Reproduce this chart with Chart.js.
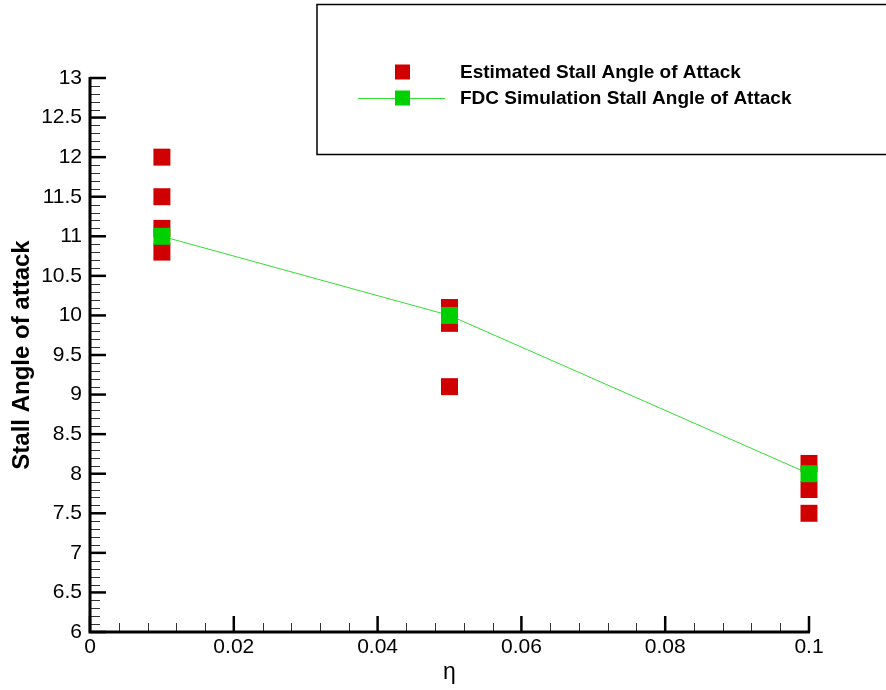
<!DOCTYPE html>
<html>
<head>
<meta charset="utf-8">
<script src="https://cdn.jsdelivr.net/npm/chart.js@4/dist/chart.umd.min.js"></script>
<style>
html,body{margin:0;padding:0;background:#fff;}
#wrap{width:886px;height:690px;position:relative;}
</style>
</head>
<body>
<div id="wrap"><canvas id="c" width="886" height="690"></canvas></div>
<script>
// ---- data ----
const estEta   = [0.01, 0.01, 0.01, 0.01, 0.05, 0.05, 0.05, 0.1, 0.1, 0.1];
const estAngle = [12, 11.5, 11.1, 10.8, 10.1, 9.9, 9.1, 8.13, 7.8, 7.5];
const fdcEta   = [0.01, 0.05, 0.1];
const fdcAngle = [11, 10, 8];
const xTicks = [0, 0.02, 0.04, 0.06, 0.08, 0.1];
const yTicks = [6, 6.5, 7, 7.5, 8, 8.5, 9, 9.5, 10, 10.5, 11, 11.5, 12, 12.5, 13];
const seriesLabels = ['Estimated Stall Angle of Attack', 'FDC Simulation Stall Angle of Attack'];
const xTitle = 'η';
const yTitle = 'Stall Angle of attack';

const FONT = "'Liberation Sans', Arial, Helvetica, sans-serif";
const RED = '#d00000';
const GREEN = '#00d000';
const LINEGREEN = '#33dd33';

const toPts = (xs, ys) => xs.map((x, i) => ({x: x, y: ys[i]}));

const axesPlugin = {
  id: 'axesTicks',
  afterDatasetsDraw(chart) {
    const ctx = chart.ctx;
    const xs = chart.scales.x, ys = chart.scales.y;
    const x0 = xs.getPixelForValue(xs.min), x1 = xs.getPixelForValue(xs.max);
    const y0 = ys.getPixelForValue(ys.min), y1 = ys.getPixelForValue(ys.max);
    ctx.save();
    ctx.lineWidth = 1;
    ctx.strokeStyle = '#333';
    for (let i = 0; i <= 25; i++) {
      if (i % 5 === 0) continue;
      const px = Math.round(xs.getPixelForValue(xs.min + i * (xs.max - xs.min) / 25)) + 0.5;
      ctx.beginPath(); ctx.moveTo(px, y0); ctx.lineTo(px, y0 - 9); ctx.stroke();
    }
    for (let i = 0; i <= 70; i++) {
      if (i % 5 === 0) continue;
      const py = Math.round(ys.getPixelForValue(ys.min + i * (ys.max - ys.min) / 70)) + 0.5;
      ctx.beginPath(); ctx.moveTo(x0, py); ctx.lineTo(x0 + 10, py); ctx.stroke();
    }
    ctx.strokeStyle = '#000';
    ctx.lineWidth = 2.5;
    xTicks.forEach(v => {
      const px = xs.getPixelForValue(v);
      ctx.beginPath(); ctx.moveTo(px, y0); ctx.lineTo(px, y0 - 16); ctx.stroke();
    });
    yTicks.forEach(v => {
      const py = ys.getPixelForValue(v);
      ctx.beginPath(); ctx.moveTo(x0, py); ctx.lineTo(x0 + 16, py); ctx.stroke();
    });
    ctx.lineWidth = 3;
    ctx.beginPath();
    ctx.moveTo(x0, y1 - 1); ctx.lineTo(x0, y0); ctx.lineTo(x1 + 1, y0);
    ctx.stroke();
    ctx.restore();
  }
};

const legendPlugin = {
  id: 'boxLegend',
  afterDraw(chart) {
    const ctx = chart.ctx;
    ctx.save();
    ctx.strokeStyle = '#000';
    ctx.lineWidth = 1.5;
    ctx.strokeRect(317, 4.5, 600, 150);
    const rows = [72, 98];
    chart.data.datasets.forEach((ds, i) => {
      const cy = rows[i];
      if (ds.showLine) {
        ctx.strokeStyle = ds.borderColor;
        ctx.lineWidth = 1;
        ctx.beginPath(); ctx.moveTo(358, cy + 0.5); ctx.lineTo(445, cy + 0.5); ctx.stroke();
      }
      ctx.fillStyle = ds.pointBackgroundColor;
      ctx.fillRect(395, cy - 7.5, 15, 15);
      ctx.fillStyle = '#000';
      ctx.font = 'bold 19px ' + FONT;
      ctx.textBaseline = 'middle';
      ctx.textAlign = 'left';
      ctx.fillText(ds.label, 460, cy + 1);
    });
    ctx.restore();
  }
};

new Chart(document.getElementById('c'), {
  type: 'scatter',
  data: {
    datasets: [
      {
        label: seriesLabels[0],
        data: toPts(estEta, estAngle),
        showLine: false,
        clip: false,
        pointStyle: 'rect',
        pointRadius: 12,
        pointHoverRadius: 12,
        pointBorderWidth: 0,
        pointBackgroundColor: RED,
        backgroundColor: RED,
        borderColor: RED,
        order: 2
      },
      {
        label: seriesLabels[1],
        data: toPts(fdcEta, fdcAngle),
        showLine: true,
        clip: false,
        borderColor: LINEGREEN,
        borderWidth: 1,
        pointStyle: 'rect',
        pointRadius: 12,
        pointHoverRadius: 12,
        pointBorderWidth: 0,
        pointBackgroundColor: GREEN,
        backgroundColor: GREEN,
        order: 1
      }
    ]
  },
  options: {
    responsive: false,
    animation: false,
    events: [],
    layout: {padding: {top: 78, right: 77, left: 0, bottom: 0}},
    plugins: {legend: {display: false}, tooltip: {enabled: false}},
    scales: {
      x: {
        type: 'linear',
        min: 0, max: 0.1,
        afterFit(s) { s.height = 58; },
        afterBuildTicks(s) { s.ticks = xTicks.map(v => ({value: v})); },
        grid: {display: false, drawTicks: false},
        border: {display: false},
        ticks: {
          padding: 3,
          color: '#000',
          font: {family: FONT, size: 21},
          callback: v => String(Number(v.toFixed(4)))
        },
        title: {display: true, text: xTitle, color: '#000', font: {family: FONT, size: 23}, padding: {top: 0, bottom: 4}}
      },
      y: {
        type: 'linear',
        min: 6, max: 13,
        afterFit(s) { s.width = 90; },
        afterBuildTicks(s) { s.ticks = yTicks.map(v => ({value: v})); },
        grid: {display: false, drawTicks: false},
        border: {display: false},
        ticks: {
          padding: 8,
          color: '#000',
          font: {family: FONT, size: 21},
          callback: v => String(Number(v.toFixed(2)))
        },
        title: {display: true, text: yTitle, color: '#000', font: {family: FONT, size: 24, weight: 'bold'}, padding: {top: 8, bottom: 0}}
      }
    }
  },
  plugins: [axesPlugin, legendPlugin]
});
</script>
</body>
</html>
